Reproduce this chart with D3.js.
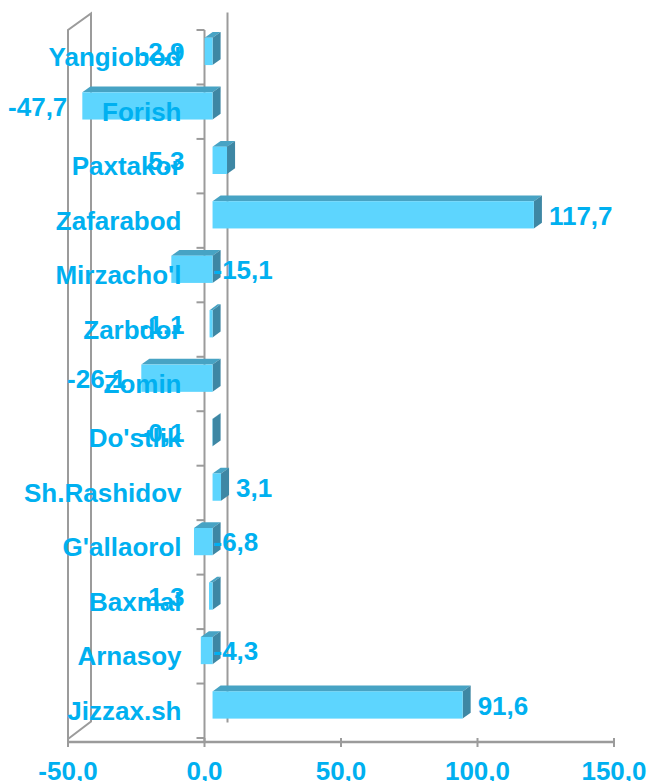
<!DOCTYPE html>
<html>
<head>
<meta charset="utf-8">
<script src="https://cdn.jsdelivr.net/npm/d3@7"></script>
<style>
  body { margin: 0; background: #fff; }
  text { font-family: "Liberation Sans", Arial, sans-serif; font-weight: bold; fill: #00b0f0; }
</style>
</head>
<body>
<div id="chart"></div>
<script>
var categories = ["Yangiobod", "Forish", "Paxtakor", "Zafarabod", "Mirzacho'l", "Zarbdor", "Zomin",
    "Do'stlik", "Sh.Rashidov", "G'allaorol", "Baxmal", "Arnasoy", "Jizzax.sh"];
var values = [-2.9, -47.7, 5.3, 117.7, -15.1, -1.1, -26.1, -0.1, 3.1, -6.8, -1.3, -4.3, 91.6];
var xTicks = [-50, 0, 50, 100, 150];

var width = 656;
var height = 781;

// depth of the 3d box, bars sit in the middle of it
var depthX = 23, depthY = -16.5;
var fdx = 0.35 * depthX, fdy = 0.35 * depthY;
var bdx = 0.7 * depthX, bdy = 0.7 * depthY;

// where each value label goes (L = left of axis, R = right of axis, E = bar end)
var labelSide = ["L", "E", "L", "E", "R", "L", "E", "L", "E", "R", "L", "R", "E"];

var fmt = d3.formatLocale({ decimal: ",", thousands: " ", grouping: [3], currency: ["", ""], minus: "-" }).format(".1f");

var x = d3.scaleLinear().domain([-50, 150]).range([68, 614]);
var y = d3.scaleBand().domain(categories).range([30, 738]).paddingInner(0.5).paddingOuter(0.25);

var svg = d3.select("#chart").append("svg")
    .attr("width", width)
    .attr("height", height);

var top0 = 30, bot0 = 739;
var grey = "#9b9b9b";

// left wall
svg.append("path")
    .attr("d", "M" + x(-50) + "," + bot0 + "L" + x(-50) + "," + top0 +
        "L" + (x(-50) + depthX) + "," + (top0 + depthY) +
        "L" + (x(-50) + depthX) + "," + (bot0 + depthY - 1) +
        "L" + x(-50) + "," + bot0)
    .attr("fill", "none")
    .attr("stroke", grey)
    .attr("stroke-width", 2);

// back gridline at zero
svg.append("line")
    .attr("x1", x(0) + depthX).attr("x2", x(0) + depthX)
    .attr("y1", top0 + depthY - 1).attr("y2", bot0 + depthY)
    .attr("stroke", grey)
    .attr("stroke-width", 2);

// vertical axis (front plane at zero)
svg.append("line")
    .attr("x1", x(0)).attr("x2", x(0))
    .attr("y1", top0).attr("y2", 742)
    .attr("stroke", grey)
    .attr("stroke-width", 2);

var step = y.step();
svg.selectAll("line.ytick")
    .data(d3.range(categories.length + 1))
    .enter().append("line")
    .attr("class", "ytick")
    .attr("x1", x(0) - 8).attr("x2", x(0))
    .attr("y1", function (i) { return 30 + i * step; })
    .attr("y2", function (i) { return 30 + i * step; })
    .attr("stroke", grey)
    .attr("stroke-width", 2);

// horizontal axis
svg.append("line")
    .attr("x1", x(-50)).attr("x2", x(150))
    .attr("y1", 742).attr("y2", 742)
    .attr("stroke", grey)
    .attr("stroke-width", 2.5);

svg.selectAll("line.xtick")
    .data(xTicks)
    .enter().append("line")
    .attr("class", "xtick")
    .attr("x1", x).attr("x2", x)
    .attr("y1", 738).attr("y2", 747)
    .attr("stroke", grey)
    .attr("stroke-width", 2);

svg.selectAll("text.xlab")
    .data(xTicks)
    .enter().append("text")
    .attr("class", "xlab")
    .attr("x", x)
    .attr("y", 780)
    .attr("text-anchor", "middle")
    .style("font-size", "26px")
    .text(fmt);

// bars
var bars = svg.selectAll("g.bar")
    .data(values)
    .enter().append("g")
    .attr("class", "bar");

function barGeom(v, i) {
    var x0 = Math.min(x(0), x(v)), x1 = Math.max(x(0), x(v));
    var yt = y(categories[i]), yb = yt + y.bandwidth();
    return { x0: x0, x1: x1, yt: yt, yb: yb };
}

bars.append("path")
    .attr("d", function (v, i) {
        var g = barGeom(v, i);
        return "M" + (g.x0 + fdx) + "," + (g.yt + fdy) + "L" + (g.x1 + fdx) + "," + (g.yt + fdy) +
            "L" + (g.x1 + bdx) + "," + (g.yt + bdy) + "L" + (g.x0 + bdx) + "," + (g.yt + bdy) + "Z";
    })
    .attr("fill", "#47a3c4");

bars.append("path")
    .attr("d", function (v, i) {
        var g = barGeom(v, i);
        return "M" + (g.x1 + fdx) + "," + (g.yt + fdy) + "L" + (g.x1 + bdx) + "," + (g.yt + bdy) +
            "L" + (g.x1 + bdx) + "," + (g.yb + bdy) + "L" + (g.x1 + fdx) + "," + (g.yb + fdy) + "Z";
    })
    .attr("fill", "#3e87a4");

bars.append("rect")
    .attr("x", function (v, i) { return barGeom(v, i).x0 + fdx; })
    .attr("y", function (v, i) { return barGeom(v, i).yt + fdy; })
    .attr("width", function (v, i) { var g = barGeom(v, i); return g.x1 - g.x0; })
    .attr("height", y.bandwidth())
    .attr("fill", "#5dd5fe");

// category labels
svg.selectAll("text.cat")
    .data(categories)
    .enter().append("text")
    .attr("class", "cat")
    .attr("x", x(0) - 23)
    .attr("y", function (d) { return y(d) + y.bandwidth() / 2 + 9; })
    .attr("text-anchor", "end")
    .style("font-size", "26px")
    .text(String);

// value labels
svg.selectAll("text.val")
    .data(values)
    .enter().append("text")
    .attr("class", "val")
    .attr("x", function (v, i) {
        var s = labelSide[i];
        if (s == "L") return x(0) - 20;
        if (s == "R") return x(0) + 9;
        return v > 0 ? x(v) + bdx + 7 : x(v) + fdx - 15;
    })
    .attr("y", function (v, i) { return y(categories[i]) + y.bandwidth() / 2 - 5 + 9; })
    .attr("text-anchor", function (v, i) {
        var s = labelSide[i];
        if (s == "L") return "end";
        if (s == "R") return "start";
        return v > 0 ? "start" : "end";
    })
    .style("font-size", "26px")
    .text(fmt);
</script>
</body>
</html>
